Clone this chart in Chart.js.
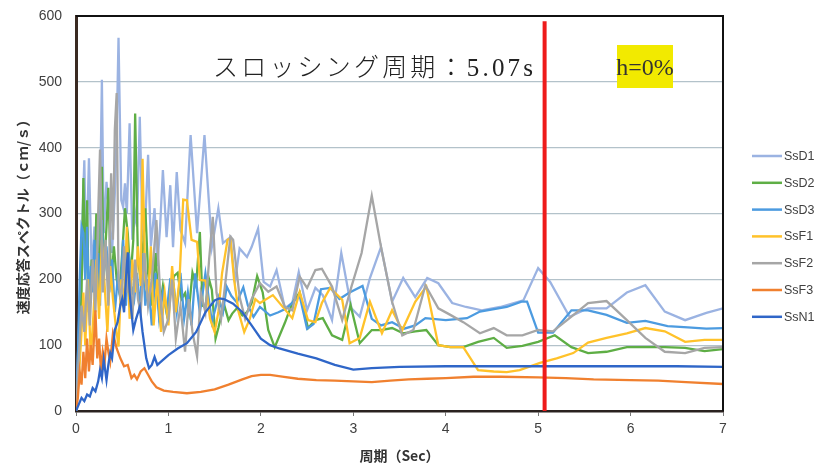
<!DOCTYPE html>
<html>
<head>
<meta charset="utf-8">
<script src="https://cdn.jsdelivr.net/npm/chart.js@4/dist/chart.umd.min.js"></script>
<style>
html,body{margin:0;padding:0;background:#fff;}
#wrap{width:819px;height:470px;position:relative;}
</style>
</head>
<body>
<div id="wrap"><canvas id="c" width="819" height="470"></canvas></div>
<script>
// ---- data (period [s], velocity response [cm/s]) ----
const seriesNames = ['SsD1','SsD2','SsD3','SsF1','SsF2','SsF3','SsN1'];
const xTicks = [0,1,2,3,4,5,6,7];
const yTicks = [0,100,200,300,400,500,600];
const sloshingPeriod = 5.07;
const sloshingText = 'スロッシング周期：5.07s';
const dampingText = 'h=0%';

const D1_T = [0,0.03,0.06,0.09,0.11,0.14,0.17,0.2,0.23,0.26,0.28,0.3,0.33,0.36,0.39,0.42,0.44,0.46,0.49,0.51,0.53,0.55,0.58,0.61,0.64,0.66,0.69,0.72,0.75,0.78,0.81,0.85,0.88,0.91,0.94,0.98,1.02,1.05,1.09,1.13,1.18,1.24,1.31,1.39,1.47,1.54,1.59,1.67,1.72,1.77,1.85,1.9,1.97,2.03,2.1,2.17,2.26,2.34,2.41,2.5,2.59,2.67,2.77,2.87,2.98,3.07,3.18,3.3,3.42,3.54,3.67,3.8,3.92,4.07,4.22,4.39,4.59,4.84,5.0,5.13,5.34,5.54,5.74,5.96,6.16,6.37,6.59,6.82,7.0];
const D1_V = [0,120,250,381,220,384,210,280,230,310,503,270,348,300,240,330,420,567,320,310,346,300,437,260,300,280,447,270,290,389,250,308,220,280,366,264,343,249,363,275,255,419,270,419,249,308,255,264,196,247,234,249,277,196,189,214,156,164,211,153,187,176,138,240,156,143,202,249,166,202,173,202,194,164,158,153,158,168,217,196,143,156,156,180,191,151,138,149,156];

const D2_T = [0,0.03,0.06,0.08,0.1,0.12,0.14,0.17,0.2,0.22,0.25,0.28,0.3,0.33,0.35,0.38,0.41,0.44,0.47,0.5,0.53,0.56,0.59,0.62,0.64,0.67,0.7,0.73,0.75,0.78,0.82,0.86,0.9,0.94,0.98,1.02,1.06,1.1,1.14,1.18,1.22,1.26,1.3,1.34,1.37,1.4,1.44,1.47,1.51,1.54,1.58,1.61,1.65,1.69,1.74,1.8,1.85,1.9,1.96,2.02,2.08,2.15,2.26,2.34,2.42,2.51,2.59,2.67,2.77,2.88,2.97,3.07,3.2,3.3,3.42,3.54,3.67,3.79,3.92,4.05,4.19,4.35,4.52,4.66,4.83,5.0,5.18,5.36,5.54,5.74,5.96,6.16,6.37,6.59,6.8,7.0];
const D2_V = [0,60,180,354,200,320,150,230,190,300,170,371,200,280,339,190,250,200,180,240,308,270,200,260,452,230,200,260,308,210,160,240,150,190,150,180,205,210,170,179,150,210,190,272,160,158,200,184,110,126,150,158,138,148,156,145,150,164,205,180,123,97,134,164,180,126,138,141,115,108,161,103,123,123,126,118,121,123,100,97,97,105,111,96,99,105,115,97,88,90,97,97,97,96,91,94];

const D3_T = [0,0.02,0.04,0.06,0.08,0.1,0.12,0.14,0.16,0.18,0.2,0.22,0.24,0.26,0.28,0.3,0.33,0.36,0.39,0.42,0.45,0.48,0.51,0.54,0.57,0.6,0.63,0.66,0.69,0.72,0.75,0.78,0.82,0.86,0.9,0.94,0.98,1.02,1.05,1.09,1.13,1.17,1.21,1.25,1.29,1.34,1.4,1.47,1.54,1.59,1.63,1.68,1.74,1.81,1.86,1.92,1.99,2.1,2.19,2.28,2.35,2.42,2.5,2.57,2.65,2.75,2.85,2.96,3.1,3.2,3.3,3.42,3.55,3.67,3.78,4.0,4.23,4.37,4.66,4.82,4.88,5.0,5.16,5.36,5.54,5.74,5.96,6.16,6.4,6.62,6.82,7.0];
const D3_V = [0,80,200,280,270,200,280,150,220,180,260,190,240,160,290,210,250,180,230,150,200,170,260,160,240,190,170,210,150,240,160,200,130,210,140,180,150,200,199,150,210,140,180,130,209,149,209,135,173,150,189,175,165,188,160,143,158,145,150,156,166,175,125,132,185,187,170,180,190,140,130,135,125,130,141,138,141,151,158,166,166,119,119,153,153,146,134,137,129,127,125,126];

const F1_T = [0,0.03,0.06,0.08,0.1,0.13,0.16,0.19,0.22,0.25,0.28,0.31,0.34,0.37,0.4,0.43,0.46,0.49,0.52,0.55,0.58,0.61,0.64,0.67,0.7,0.72,0.75,0.78,0.81,0.84,0.88,0.92,0.96,1.0,1.04,1.08,1.12,1.16,1.2,1.25,1.31,1.34,1.4,1.45,1.5,1.54,1.58,1.64,1.67,1.71,1.76,1.82,1.88,1.94,1.99,2.13,2.34,2.42,2.51,2.59,2.66,2.75,2.88,2.96,3.07,3.18,3.31,3.42,3.53,3.67,3.79,3.92,4.05,4.19,4.35,4.52,4.66,4.8,5.02,5.2,5.38,5.54,5.74,5.96,6.16,6.37,6.59,6.8,7.0];
const F1_V = [0,50,120,180,100,200,80,150,230,140,260,190,120,220,170,130,98,200,160,280,140,230,180,250,190,383,200,170,250,130,200,120,180,130,220,150,200,321,320,260,257,199,198,140,120,150,209,260,262,200,150,120,140,170,164,176,141,181,138,135,164,187,169,103,111,166,118,153,123,166,189,100,97,97,62,60,59,62,73,80,88,104,111,118,126,121,105,108,108];

const F2_T = [0,0.03,0.06,0.09,0.12,0.15,0.18,0.21,0.24,0.26,0.29,0.32,0.35,0.38,0.4,0.42,0.44,0.46,0.49,0.52,0.55,0.58,0.61,0.64,0.67,0.7,0.74,0.78,0.82,0.87,0.91,0.95,1.0,1.04,1.08,1.13,1.18,1.22,1.26,1.31,1.35,1.4,1.44,1.48,1.52,1.57,1.62,1.67,1.7,1.77,1.83,1.9,1.99,2.08,2.17,2.26,2.34,2.42,2.5,2.59,2.66,2.77,2.88,2.98,3.09,3.2,3.3,3.42,3.53,3.65,3.78,3.92,4.05,4.19,4.37,4.52,4.66,4.83,5.0,5.16,5.34,5.54,5.74,5.96,6.16,6.37,6.59,6.8,7.0];
const F2_V = [0,80,160,120,200,130,230,150,300,397,180,260,160,361,260,427,483,200,160,250,180,210,140,230,170,150,240,160,200,290,180,120,140,200,110,160,90,170,120,83,180,150,230,295,180,140,200,265,260,173,140,170,194,181,189,158,153,204,187,214,216,189,138,189,240,327,249,166,115,123,191,156,146,135,118,126,115,115,123,121,141,164,167,138,111,90,88,96,97];

const F3_T = [0,0.02,0.04,0.06,0.08,0.1,0.12,0.14,0.16,0.18,0.21,0.23,0.25,0.27,0.29,0.31,0.33,0.35,0.37,0.4,0.44,0.48,0.52,0.56,0.6,0.63,0.66,0.7,0.74,0.78,0.82,0.87,0.95,1.05,1.2,1.35,1.5,1.65,1.8,1.9,2.0,2.1,2.25,2.4,2.6,2.8,3.0,3.2,3.4,3.6,3.8,4.0,4.3,4.6,5.0,5.3,5.6,6.0,6.3,6.6,7.0];
const F3_V = [0,20,60,40,90,50,110,60,100,70,153,80,110,60,90,75,110,90,75,118,95,80,68,70,50,55,48,60,65,55,45,36,31,29,27,29,33,40,48,53,55,55,52,49,47,46,45,44,46,48,49,50,52,52,51,50,48,47,46,44,41];

const N1_T = [0,0.03,0.06,0.09,0.12,0.15,0.18,0.21,0.24,0.26,0.28,0.3,0.33,0.35,0.37,0.39,0.42,0.45,0.48,0.5,0.52,0.54,0.56,0.58,0.6,0.62,0.65,0.69,0.72,0.76,0.79,0.82,0.85,0.88,0.92,1.0,1.1,1.2,1.3,1.4,1.5,1.55,1.6,1.7,1.8,1.9,2.0,2.1,2.2,2.4,2.6,2.8,3.0,3.2,3.5,4.0,4.5,5.0,5.5,6.0,6.5,7.0];
const N1_V = [0,10,20,15,25,22,35,30,45,62,50,78,47,70,88,80,123,135,161,170,150,200,241,180,150,123,140,158,120,80,65,70,82,70,75,85,95,103,120,150,168,171,170,163,150,130,110,100,95,87,80,70,63,65,67,68,68,68,68,68,68,67];

const seriesColors = ['#9BB3E2','#5EAE45','#4C9BE0','#FFC22A','#A6A6A6','#F0802F','#2F66C8'];
const seriesT = [D1_T,D2_T,D3_T,F1_T,F2_T,F3_T,N1_T];
const seriesV = [D1_V,D2_V,D3_V,F1_V,F2_V,F3_V,N1_V];

const datasets = seriesNames.map((name,i)=>({
  label:name,
  data: seriesT[i].map((t,k)=>({x:t,y:seriesV[i][k]})),
  borderColor: seriesColors[i],
  backgroundColor: seriesColors[i],
  borderWidth: 2.3,
  pointRadius: 0,
  tension: 0,
  order: 20 - i
}));
datasets.push({
  label:'sloshing',
  data:[{x:sloshingPeriod,y:0},{x:sloshingPeriod,y:592}],
  borderColor:'#EE1B1B',
  borderWidth:4,
  pointRadius:0,
  order:0
});

const TICK_FONT = {family:"'Liberation Sans', Arial, sans-serif", size:14};

const overlay = {
  id:'overlay',
  afterDraw(chart){
    const ctx = chart.ctx, a = chart.chartArea;
    ctx.save();
    // frame top/right
    ctx.strokeStyle = '#111';
    ctx.lineWidth = 2;
    ctx.beginPath();
    ctx.moveTo(a.left, a.top); ctx.lineTo(a.right, a.top); ctx.lineTo(a.right, a.bottom);
    ctx.stroke();
    // legend
    ctx.font = "12.5px 'Liberation Sans', Arial, sans-serif";
    ctx.textBaseline = 'middle';
    ctx.textAlign = 'left';
    seriesNames.forEach((n,i)=>{
      const y = 156 + i*26.8;
      ctx.strokeStyle = seriesColors[i];
      ctx.lineWidth = 2.5;
      ctx.beginPath(); ctx.moveTo(752,y); ctx.lineTo(782,y); ctx.stroke();
      ctx.fillStyle = '#404040';
      ctx.fillText(n, 784, y+0.5);
    });
    // sloshing text (spread to width)
    ctx.fillStyle = '#222';
    ctx.font = "300 25px 'Liberation Serif', 'Noto Sans CJK JP', serif";
    ctx.textBaseline = 'middle';
    const chars = Array.from(sloshingText);
    const widths = chars.map(c=>ctx.measureText(c).width);
    const natural = widths.reduce((s,w)=>s+w,0);
    const target = 320;
    const extra = (target - natural)/(chars.length-1);
    let x = 213;
    chars.forEach((c,i)=>{ ctx.fillText(c, x, 69); x += widths[i] + extra; });
    // damping label
    ctx.fillStyle = '#F2EA00';
    ctx.fillRect(617,45,56,43);
    ctx.fillStyle = '#333';
    ctx.font = "24px 'Liberation Serif', serif";
    ctx.textAlign = 'center';
    ctx.fillText(dampingText, 645, 69);
    ctx.restore();
  }
};

new Chart(document.getElementById('c'), {
  type:'line',
  data:{datasets},
  plugins:[overlay],
  options:{
    responsive:false,
    animation:false,
    layout:{padding:{top:16,right:96,left:0,bottom:0}},
    plugins:{legend:{display:false},tooltip:{enabled:false}},
    scales:{
      x:{
        type:'linear', min:0, max:7,
        afterFit(s){ s.height = 59; },
        afterBuildTicks(s){ s.ticks = xTicks.map(v=>({value:v})); },
        ticks:{font:TICK_FONT, color:'#404040', padding:5, maxRotation:0},
        grid:{drawOnChartArea:false, drawTicks:true, tickLength:5, color:'#777', tickColor:'#777'},
        border:{color:'#2a2220', width:2.5},
        title:{display:true, text:'周期（Sec）', color:'#333', font:{family:"'Noto Sans CJK JP', sans-serif", size:14, weight:'bold'}, padding:{top:2,bottom:6}}
      },
      y:{
        min:0, max:600,
        afterFit(s){ s.width = 76; },
        afterBuildTicks(s){ s.ticks = yTicks.map(v=>({value:v})); },
        ticks:{font:TICK_FONT, color:'#404040', padding:0},
        grid:{color:'#B3C2CA', lineWidth:1.3, drawTicks:true, tickLength:14, tickColor:'rgba(0,0,0,0)'},
        border:{color:'#3a2a22', width:3},
        title:{display:true, text:'速度応答スペクトル（ｃｍ/ｓ）', color:'#333', font:{family:"'Noto Sans CJK JP', sans-serif", size:14, weight:'bold'}, padding:{top:14,bottom:0}}
      }
    }
  }
});
</script>
</body>
</html>
